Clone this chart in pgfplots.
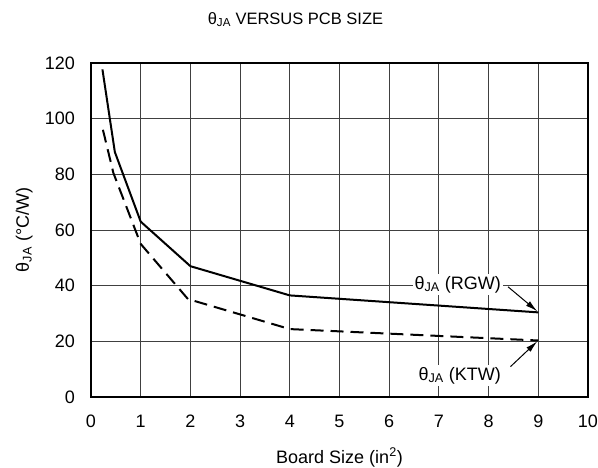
\documentclass[border=0pt]{standalone}
\usepackage{fontspec}
\setmainfont{Liberation Sans}
\usepackage{pgfplots}
\pgfplotsset{compat=1.18}
\usetikzlibrary{arrows.meta}

\begin{document}
\fontsize{18}{21}\selectfont
\begin{tikzpicture}
\useasboundingbox (-91pt,-71pt) rectangle (507pt,397pt);
\begin{axis}[
    at={(0pt,0pt)}, anchor=south west,
    scale only axis,
    width=497pt, height=334pt,
    xmin=0, xmax=10, ymin=0, ymax=120,
    xtick={0,1,...,10},
    ytick={0,20,...,120},
    grid=major,
    grid style={line width=0.9pt, black!75},
    major tick length=0pt,
    axis line style={line width=2.6pt},
    tick label style={font=\fontsize{18}{21}\selectfont},
    /pgf/number format/assume math mode=true,
    xticklabel style={yshift=-12pt},
    yticklabel style={xshift=-10pt},
    title={θ\textsubscript{JA} VERSUS PCB SIZE},
    title style={font=\fontsize{16.5}{19}\selectfont, yshift=24pt, xshift=-44pt},
    xlabel={Board Size (in\textsuperscript{2})},
    ylabel={θ\textsubscript{JA} (°C/W)},
    label style={font=\fontsize{18}{21}\selectfont},
    xlabel style={yshift=-8pt},
    ylabel style={yshift=0pt},
]
% RGW
\addplot[black, line width=2pt] coordinates {
    (0.23,117.7) (0.48,88) (1,63) (2,47) (4,36.5) (9,30.4)
};
% KTW
\addplot[black, line width=2pt, dash pattern=on 13pt off 7pt] coordinates {
    (0.24,96) (0.45,80.5) (1,55) (1.95,35.2) (4,24.4) (9,20.3)
};
\node[fill=white, inner sep=2pt, font=\fontsize{18}{21}\selectfont] at (axis cs:7.38,40.4) {θ\textsubscript{JA} (RGW)};
\node[fill=white, inner sep=2pt, font=\fontsize{18}{21}\selectfont] at (axis cs:7.42,7.7) {θ\textsubscript{JA} (KTW)};
\draw[-{Latex[length=12pt,width=6pt]}, line width=1pt] (axis cs:8.39,39.6) -- (axis cs:8.98,30.8);
\draw[-{Latex[length=12pt,width=6pt]}, line width=1pt] (axis cs:8.44,10.9) -- (axis cs:8.98,20.0);
\end{axis}
\end{tikzpicture}
\end{document}
